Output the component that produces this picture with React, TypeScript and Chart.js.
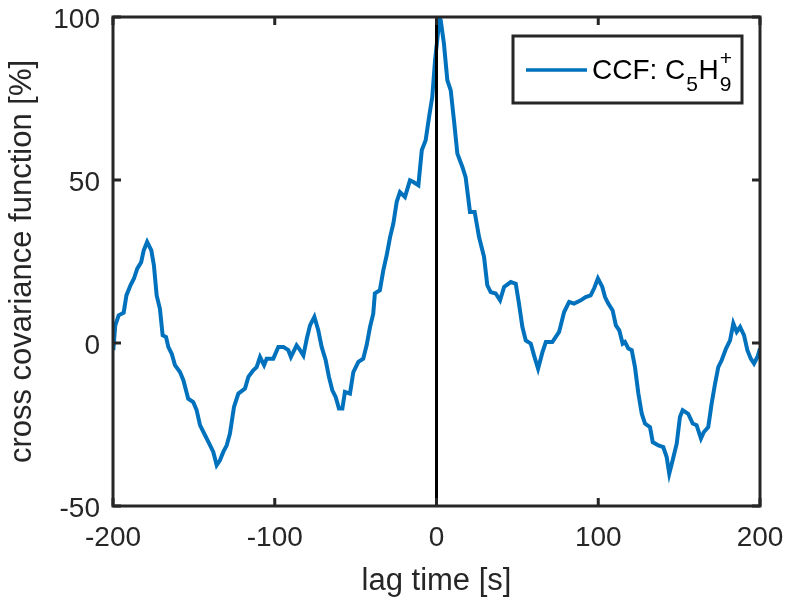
import React, { useEffect, useRef } from "react";
import { Chart, registerables } from "chart.js";

Chart.register(...registerables);

const lagTime = [
  -199.8, -198.6, -196.5, -193.4, -191.7, -189.2, -187.1, -185.0, -182.6, -181.0,
  -178.9, -176.3, -174.7, -173.0, -171.0, -169.3, -167.2, -165.8, -163.7, -161.7,
  -158.6, -156.5, -153.5, -150.4, -148.3, -146.2, -143.1, -140.5, -138.0, -135.9,
  -133.9, -131.8, -129.7, -127.7, -125.2, -122.5, -118.4, -116.3, -113.3, -111.2,
  -109.1, -106.6, -105.0, -100.9, -97.8, -94.7, -91.6, -90.0, -86.5, -85.0,
  -82.3, -80.2, -78.2, -75.5, -73.1, -71.0, -68.5, -66.5, -64.4, -62.3,
  -60.3, -58.2, -56.6, -53.5, -51.4, -48.3, -45.3, -43.2, -41.1, -39.1,
  -38.1, -35.0, -32.9, -30.8, -28.7, -26.7, -24.6, -22.6, -19.5, -16.4,
  -14.3, -11.2, -9.1, -6.7, -4.6, -2.6, -0.9, 1.1, 1.8, 2.6,
  4.6, 6.7, 8.8, 10.8, 12.9, 16.0, 18.0, 20.7, 23.6, 26.3,
  29.4, 31.4, 33.5, 36.6, 39.3, 41.8, 45.9, 49.0, 51.0, 53.1,
  55.2, 58.3, 60.3, 62.8, 65.5, 67.6, 71.6, 75.8, 78.9, 82.0,
  85.0, 89.2, 92.2, 95.3, 97.4, 99.8, 102.5, 104.2, 106.2, 108.9,
  110.9, 113.0, 115.1, 116.5, 118.6, 120.7, 122.7, 124.8, 126.9, 128.9,
  132.0, 133.7, 137.2, 140.2, 142.3, 143.9, 146.0, 148.5, 150.5, 152.2,
  155.6, 158.4, 160.8, 163.5, 165.3, 168.0, 170.1, 172.2, 174.2, 176.3,
  179.0, 181.5, 183.5, 185.6, 187.7, 190.1, 192.2, 194.3, 196.3, 198.4,
  200,
];

const ccf = [
  -2.2, 5.4, 8.5, 9.3, 14.6, 17.7, 19.7, 22.8, 24.8, 28.4,
  31.0, 28.4, 23.8, 14.6, 10.5, 2.4, 1.8, -1.2, -3.3, -6.8,
  -8.9, -11.4, -17.1, -18.1, -20.6, -25.2, -28.3, -30.9, -33.4, -37.5,
  -36.0, -33.4, -31.4, -27.8, -19.6, -15.5, -14.0, -10.4, -8.4, -7.4,
  -4.3, -6.8, -4.8, -4.8, -1.2, -1.2, -2.2, -4.3, -0.7, -1.7,
  -3.8, 1.3, 5.4, 8.0, 3.9, -1.2, -5.3, -10.4, -14.5, -16.6,
  -20.1, -20.1, -15.0, -15.5, -8.9, -5.8, -4.8, -0.7, 4.9, 9.0,
  15.2, 16.2, 22.3, 26.9, 32.5, 36.6, 43.3, 46.3, 44.8, 49.9,
  49.4, 48.4, 59.1, 62.2, 69.3, 75.5, 86.7, 95.9, 100, 99.0,
  91.8, 80.6, 77.5, 68.3, 58.1, 54.0, 50.9, 40.2, 40.2, 32.5,
  26.4, 17.7, 15.6, 15.2, 13.1, 17.2, 18.7, 18.2, 12.1, 4.9,
  0.8, -0.2, -3.8, -7.9, -2.8, 0.3, 0.3, 3.4, 9.5, 12.6,
  12.1, 13.1, 14.1, 14.6, 16.7, 19.8, 17.2, 14.1, 12.1, 10.0,
  5.4, 3.9, -0.2, 0.3, -1.7, -2.2, -7.4, -15.5, -21.7, -24.7,
  -25.8, -30.4, -31.4, -31.9, -35.0, -40.1, -36.0, -30.9, -22.7, -20.6,
  -21.7, -24.7, -25.2, -29.3, -27.3, -25.8, -18.6, -12.5, -7.4, -5.3,
  -1.7, 0.8, 6.0, 3.4, 4.9, 2.4, -2.2, -4.8, -6.3, -4.3,
  -1.7,
];

const zeroLineX = [0, 0];
const zeroLineY = [-50, 100];

const xTicks = [-200, -100, 0, 100, 200];
const yTicks = [-50, 0, 50, 100];

const xLabel = "lag time [s]";
const yLabel = "cross covariance function [%]";
const legendMain = "CCF: C";
const legendSub1 = "5";
const legendH = "H";
const legendSub2 = "9";
const legendSup = "+";

const FONT = "'Liberation Sans', Arial, Helvetica, sans-serif";
const AXIS_COLOR = "#262626";
const LINE_COLOR = "#0072BD";

const framePlugin = {
  id: "matlabFrame",
  afterDatasetsDraw(chart: any) {
    const { ctx, chartArea } = chart;
    const { left, right, top, bottom } = chartArea;
    const xs = chart.scales.x;
    const ys = chart.scales.y;
    ctx.save();
    ctx.strokeStyle = AXIS_COLOR;
    ctx.lineWidth = 3;
    ctx.strokeRect(left, top, right - left, bottom - top);
    const tl = 8;
    ctx.beginPath();
    xTicks.forEach((v) => {
      const px = xs.getPixelForValue(v);
      ctx.moveTo(px, bottom);
      ctx.lineTo(px, bottom - tl);
      ctx.moveTo(px, top);
      ctx.lineTo(px, top + tl);
    });
    yTicks.forEach((v) => {
      const py = ys.getPixelForValue(v);
      ctx.moveTo(left, py);
      ctx.lineTo(left + tl, py);
      ctx.moveTo(right, py);
      ctx.lineTo(right - tl, py);
    });
    ctx.stroke();

    // legend
    const bx = 513, by = 36, bw = 229, bh = 67;
    ctx.fillStyle = "#ffffff";
    ctx.fillRect(bx, by, bw, bh);
    ctx.strokeStyle = AXIS_COLOR;
    ctx.lineWidth = 3;
    ctx.strokeRect(bx, by, bw, bh);
    ctx.strokeStyle = LINE_COLOR;
    ctx.lineWidth = 3.5;
    ctx.beginPath();
    ctx.moveTo(526, 70);
    ctx.lineTo(587, 70);
    ctx.stroke();
    ctx.fillStyle = "#000000";
    ctx.textBaseline = "alphabetic";
    ctx.textAlign = "left";
    let x = 592;
    const base = 78.5;
    ctx.font = `28px ${FONT}`;
    ctx.fillText(legendMain, x, base);
    x += ctx.measureText(legendMain).width;
    ctx.font = `21px ${FONT}`;
    ctx.fillText(legendSub1, x + 1, base + 12);
    x += ctx.measureText(legendSub1).width + 1.5;
    ctx.font = `28px ${FONT}`;
    ctx.fillText(legendH, x, base);
    x += ctx.measureText(legendH).width + 1;
    ctx.font = `21px ${FONT}`;
    ctx.fillText(legendSub2, x, base + 12);
    ctx.fillText(legendSup, x, base - 14);
    ctx.restore();
  },
};

const zeroPad = (s: any) => {
  s.paddingLeft = 0;
  s.paddingRight = 0;
  s.paddingTop = 0;
  s.paddingBottom = 0;
};

export default function App() {
  const ref = useRef<HTMLCanvasElement | null>(null);
  useEffect(() => {
    if (!ref.current) return;
    const chart = new Chart(ref.current, {
      type: "line",
      data: {
        datasets: [
          {
            label: "zero",
            data: zeroLineX.map((v, i) => ({ x: v, y: zeroLineY[i] })),
            borderColor: "#000000",
            borderWidth: 3,
            pointRadius: 0,
            order: 0,
          },
          {
            label: "CCF",
            data: lagTime.map((v, i) => ({ x: v, y: ccf[i] })),
            borderColor: LINE_COLOR,
            borderWidth: 4,
            pointRadius: 0,
            tension: 0,
            order: 1,
          },
        ],
      },
      options: {
        responsive: false,
        animation: false,
        events: [],
        layout: { padding: { left: 0, right: 28, top: 17, bottom: 0 } },
        plugins: { legend: { display: false }, tooltip: { enabled: false } },
        scales: {
          x: {
            type: "linear",
            min: -200,
            max: 200,
            afterFit: (s: any) => {
              s.height = 97;
              zeroPad(s);
            },
            afterBuildTicks: (s: any) => {
              s.ticks = xTicks.map((v) => ({ value: v }));
            },
            grid: { display: false, drawTicks: false },
            border: { display: false },
            ticks: {
              color: AXIS_COLOR,
              font: { family: FONT, size: 28, lineHeight: 1 },
              padding: 18,
              maxRotation: 0,
            },
            title: {
              display: true,
              text: xLabel,
              color: AXIS_COLOR,
              font: { family: FONT, size: 31, lineHeight: 1 },
              padding: { top: 0, bottom: 6 },
            },
          },
          y: {
            type: "linear",
            min: -50,
            max: 100,
            afterFit: (s: any) => {
              s.width = 113;
              zeroPad(s);
            },
            afterBuildTicks: (s: any) => {
              s.ticks = yTicks.map((v) => ({ value: v }));
            },
            grid: { display: false, drawTicks: false },
            border: { display: false },
            ticks: {
              color: AXIS_COLOR,
              font: { family: FONT, size: 28, lineHeight: 1 },
              padding: 13,
              labelOffset: 3,
            },
            title: {
              display: true,
              text: yLabel,
              color: AXIS_COLOR,
              font: { family: FONT, size: 31, lineHeight: 1 },
              padding: { top: 7, bottom: 0 },
            },
          },
        },
      },
      plugins: [framePlugin],
    });
    return () => chart.destroy();
  }, []);
  return (
    <div style={{ position: "absolute", left: 0, top: 0, width: 788, height: 603, background: "#fff" }}>
      <canvas ref={ref} width={788} height={603} style={{ display: "block" }} />
    </div>
  );
}
